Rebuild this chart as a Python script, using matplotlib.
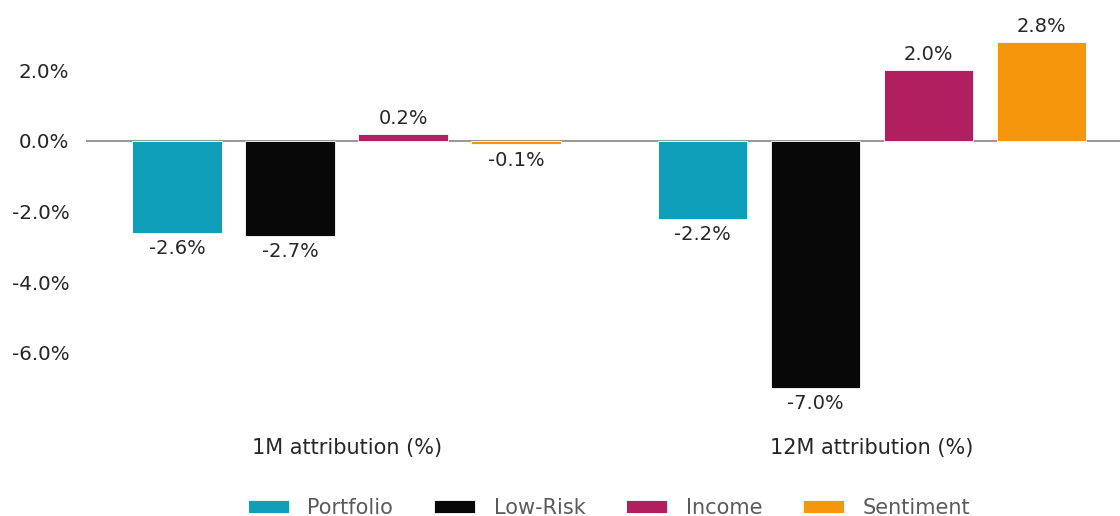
import matplotlib
matplotlib.use("Agg")
import matplotlib.pyplot as plt
import numpy as np

categories = ["1M attribution (%)", "12M attribution (%)"]
series_names = ["Portfolio", "Low-Risk", "Income", "Sentiment"]
portfolio = [-2.6, -2.2]
low_risk = [-2.7, -7.0]
income = [0.2, 2.0]
sentiment = [-0.1, 2.8]
yticks = [-6.0, -4.0, -2.0, 0.0, 2.0]

colors = ["#0f9fba", "#080808", "#b01f5f", "#f5960d"]
series = [portfolio, low_risk, income, sentiment]

fig = plt.figure(figsize=(11.2, 5.16), dpi=100)
ax = fig.add_axes([86/1120, 1-416/516, 1-86/1120, (416-14)/516])

x = np.arange(len(categories))
step = 0.215
width = 0.17
txtcol = "#262626"
for i, (name, vals, c) in enumerate(zip(series_names, series, colors)):
    bars = ax.bar(x + (i-1.5)*step, vals, width, color=c, label=name,
                  edgecolor="white", linewidth=0.6)
    ax.bar_label(bars, labels=[f"{v:.1f}%" for v in vals], padding=4.5,
                 fontsize=14, color=txtcol)

ax.axhline(0, color="#999999", linewidth=1.5, zorder=0)
ax.set_xlim(-0.496, 1.472)
ax.set_ylim(-7.8, 3.6)
ax.set_yticks(yticks)
ax.set_yticklabels([f"{v:.1f}%" for v in yticks], fontsize=14.3, color=txtcol)
ax.set_xticks(x)
ax.set_xticklabels(categories, fontsize=15, color=txtcol)
ax.tick_params(axis="both", length=0)
ax.tick_params(axis="y", pad=12)
ax.tick_params(axis="x", pad=15.5)
for s in ax.spines.values():
    s.set_visible(False)

leg = fig.legend(loc="center", bbox_to_anchor=(609/1120, 1-508/516), ncol=4,
                 frameon=False, handlelength=1.97, handleheight=0.58,
                 handletextpad=0.9, columnspacing=1.95,
                 prop={"size": 15})
for t in leg.get_texts():
    t.set_color("#5a5a5a")

fig.savefig("out.png", dpi=100)
